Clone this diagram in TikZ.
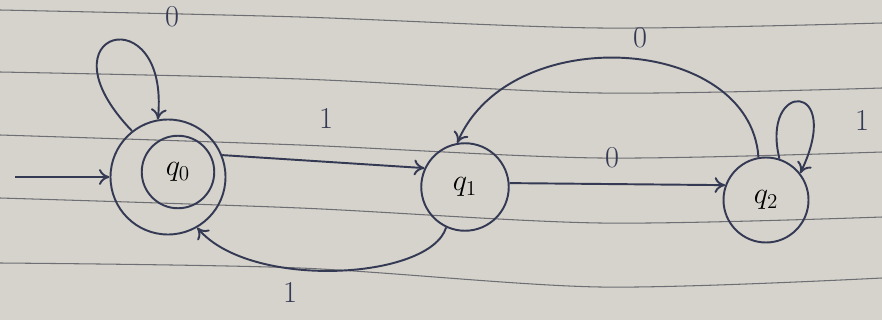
\documentclass[tikz,border=0pt]{standalone}
\usepackage{amsfonts, amssymb, amsmath}
\usetikzlibrary{arrows.meta}

\definecolor{paper}{RGB}{214,211,204}
\definecolor{rule}{RGB}{110,110,116}
\definecolor{ink}{RGB}{52,57,84}

\begin{document}
\begin{tikzpicture}[
    state/.style={draw=ink, line width=1.1pt, circle, inner sep=0pt},
    edge/.style={draw=ink, line width=1.1pt, -{To[length=6pt,width=9pt]}},
    lab/.style={text=ink, font=\LARGE}]
    % Paper
    \fill[paper] (0,0) rectangle (17.64,6.4);
    \useasboundingbox (0,0) rectangle (17.64,6.4);
    \foreach \a/\b/\c/\d in {10/17/28/23, 72/79/93/88, 135/145/158/152,
                             198/208/223/217, 263/268/287/278} {
        \draw[rule, line width=0.6pt] plot[smooth] coordinates
            {(0,{(320-\a)/50}) (6,{(320-\b)/50}) (12,{(320-\c)/50}) (17.64,{(320-\d)/50})};
    }

    % States
    \node[state, minimum size=2.3cm] (q0o) at (3.36, 2.86) {};
    \node[state, minimum size=1.45cm] (q0) at (3.56, 2.96) {\LARGE $q_0$};
    \node[state, minimum size=1.75cm] (q1) at (9.30, 2.66) {\LARGE $q_1$};
    \node[state, minimum size=1.70cm] (q2) at (15.32, 2.40) {\LARGE $q_2$};

    % Start
    \coordinate (s) at (0.3, 2.86);
    \draw[edge] (s) -- (q0o.west);

    % Transitions
    \draw[edge] (q0o.128) .. controls (0.7, 5.8) and (3.4, 6.5) .. (q0o.100);
    \draw[edge] (q0o.22) -- (q1.155);
    \draw[edge] (q1.245) .. controls (8.6, 0.8) and (5.0, 0.6) .. (q0o.300);
    \draw[edge] (q1.5) -- (q2.160);
    \draw[edge] (q2.100) .. controls (15.0, 5.7) and (10.2, 6.0) .. (q1.100);
    \draw[edge] (q2.72) .. controls (15.2, 4.8) and (16.9, 4.8) .. (q2.38);

    % Labels
    \node[lab] (l00) at (3.44, 6.06) {0};
    \node[lab] (l01) at (6.52, 4.04) {1};
    \node[lab] (l10) at (5.80, 0.56) {1};
    \node[lab] (l12) at (12.24, 3.24) {0};
    \node[lab] (l21) at (12.80, 5.64) {0};
    \node[lab] (l22) at (17.24, 4.00) {1};
\end{tikzpicture}
\end{document}
